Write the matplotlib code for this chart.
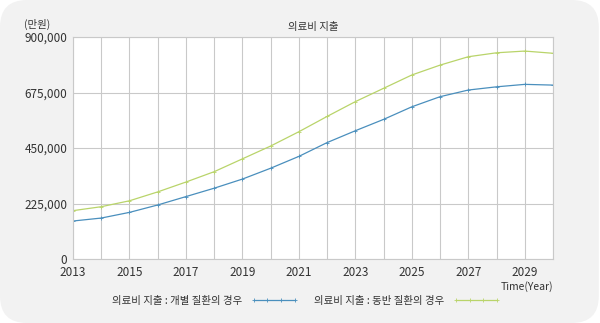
#Recreate the medical expenditure projection chart (의료비 지출)
import numpy as np
import matplotlib.pyplot as plt
from matplotlib.patches import FancyBboxPatch
from matplotlib.ticker import FuncFormatter

plt.rcParams['font.family'] = ['Noto Sans CJK KR', 'DejaVu Sans']

years = [2013, 2014, 2015, 2016, 2017, 2018, 2019, 2020, 2021,
         2022, 2023, 2024, 2025, 2026, 2027, 2028, 2029, 2030]

#개별 질환의 경우 (individual disease)
individual = [154000, 166000, 189000, 219000, 253000, 287000, 324000, 368000, 416000,
              472000, 520000, 566000, 617000, 658000, 685000, 698000, 708000, 705000]

#동반 질환의 경우 (comorbidity)
comorbid = [196000, 212000, 236000, 272000, 312000, 354000, 406000, 458000, 516000,
            578000, 638000, 692000, 746000, 786000, 820000, 836000, 843000, 834000]

yticks = [0, 225000, 450000, 675000, 900000]
xticks = [2013, 2015, 2017, 2019, 2021, 2023, 2025, 2027, 2029]

blue = '#4a8fbd'
green = '#b9d46a'
grid = '#c9c9c9'
panel = '#f2f2f2'

fig = plt.figure(figsize=(6.0, 3.23), dpi=100)
fig.patch.set_facecolor('white')

#rounded grey panel behind everything
bg = FancyBboxPatch((0.0, 0.0), 0.998, 1.0, boxstyle='round,pad=0,rounding_size=0.045',
                    transform=fig.transFigure, facecolor=panel, edgecolor='none',
                    mutation_aspect=600/323, zorder=-10)
fig.patches.append(bg)

ax = fig.add_axes([73/600, 1-259/323, 480/600, 222/323])
ax.set_facecolor('white')

ax.plot(years, individual, color=blue, lw=0.9, marker='+', markersize=3,
        markeredgewidth=0.6, label='의료비 지출 : 개별 질환의 경우')
ax.plot(years, comorbid, color=green, lw=0.9, marker='+', markersize=3,
        markeredgewidth=0.6, label='의료비 지출 : 동반 질환의 경우')

ax.set_xlim(2013, 2030)
ax.set_ylim(0, 900000)
ax.set_xticks(np.arange(2013, 2031, 1), minor=False)
ax.set_xticklabels([str(y) if y in xticks else '' for y in range(2013, 2031)])
ax.set_yticks(yticks)
ax.yaxis.set_major_formatter(FuncFormatter(lambda v, p: f'{int(v):,}'))
ax.grid(True, color=grid, lw=0.8)
ax.set_axisbelow(True)
ax.tick_params(axis='both', length=0, labelsize=8.5, colors='#333333', pad=4)
ax.tick_params(axis='x', pad=5)
for s in ax.spines.values():
    s.set_color(grid)
    s.set_linewidth(0.8)

fig.text(313/600, 1-27/323, '의료비 지출', ha='center', va='center', fontsize=7.5, color='#333333')
fig.text(24/600, 1-24/323, '(만원)', ha='left', va='center', fontsize=7.5, color='#333333')
fig.text(553/600, 1-287/323, 'Time(Year)', ha='right', va='center', fontsize=7.5, color='#333333')

lgnd = fig.legend(loc='center', bbox_to_anchor=(0.51, 1-301/323), ncol=2, frameon=False,
                  fontsize=7.5, markerfirst=False, handlelength=4.5, columnspacing=1.6,
                  handletextpad=0.8, numpoints=4, labelcolor='#333333')

plt.savefig('out.png', dpi=100, facecolor=fig.get_facecolor())
